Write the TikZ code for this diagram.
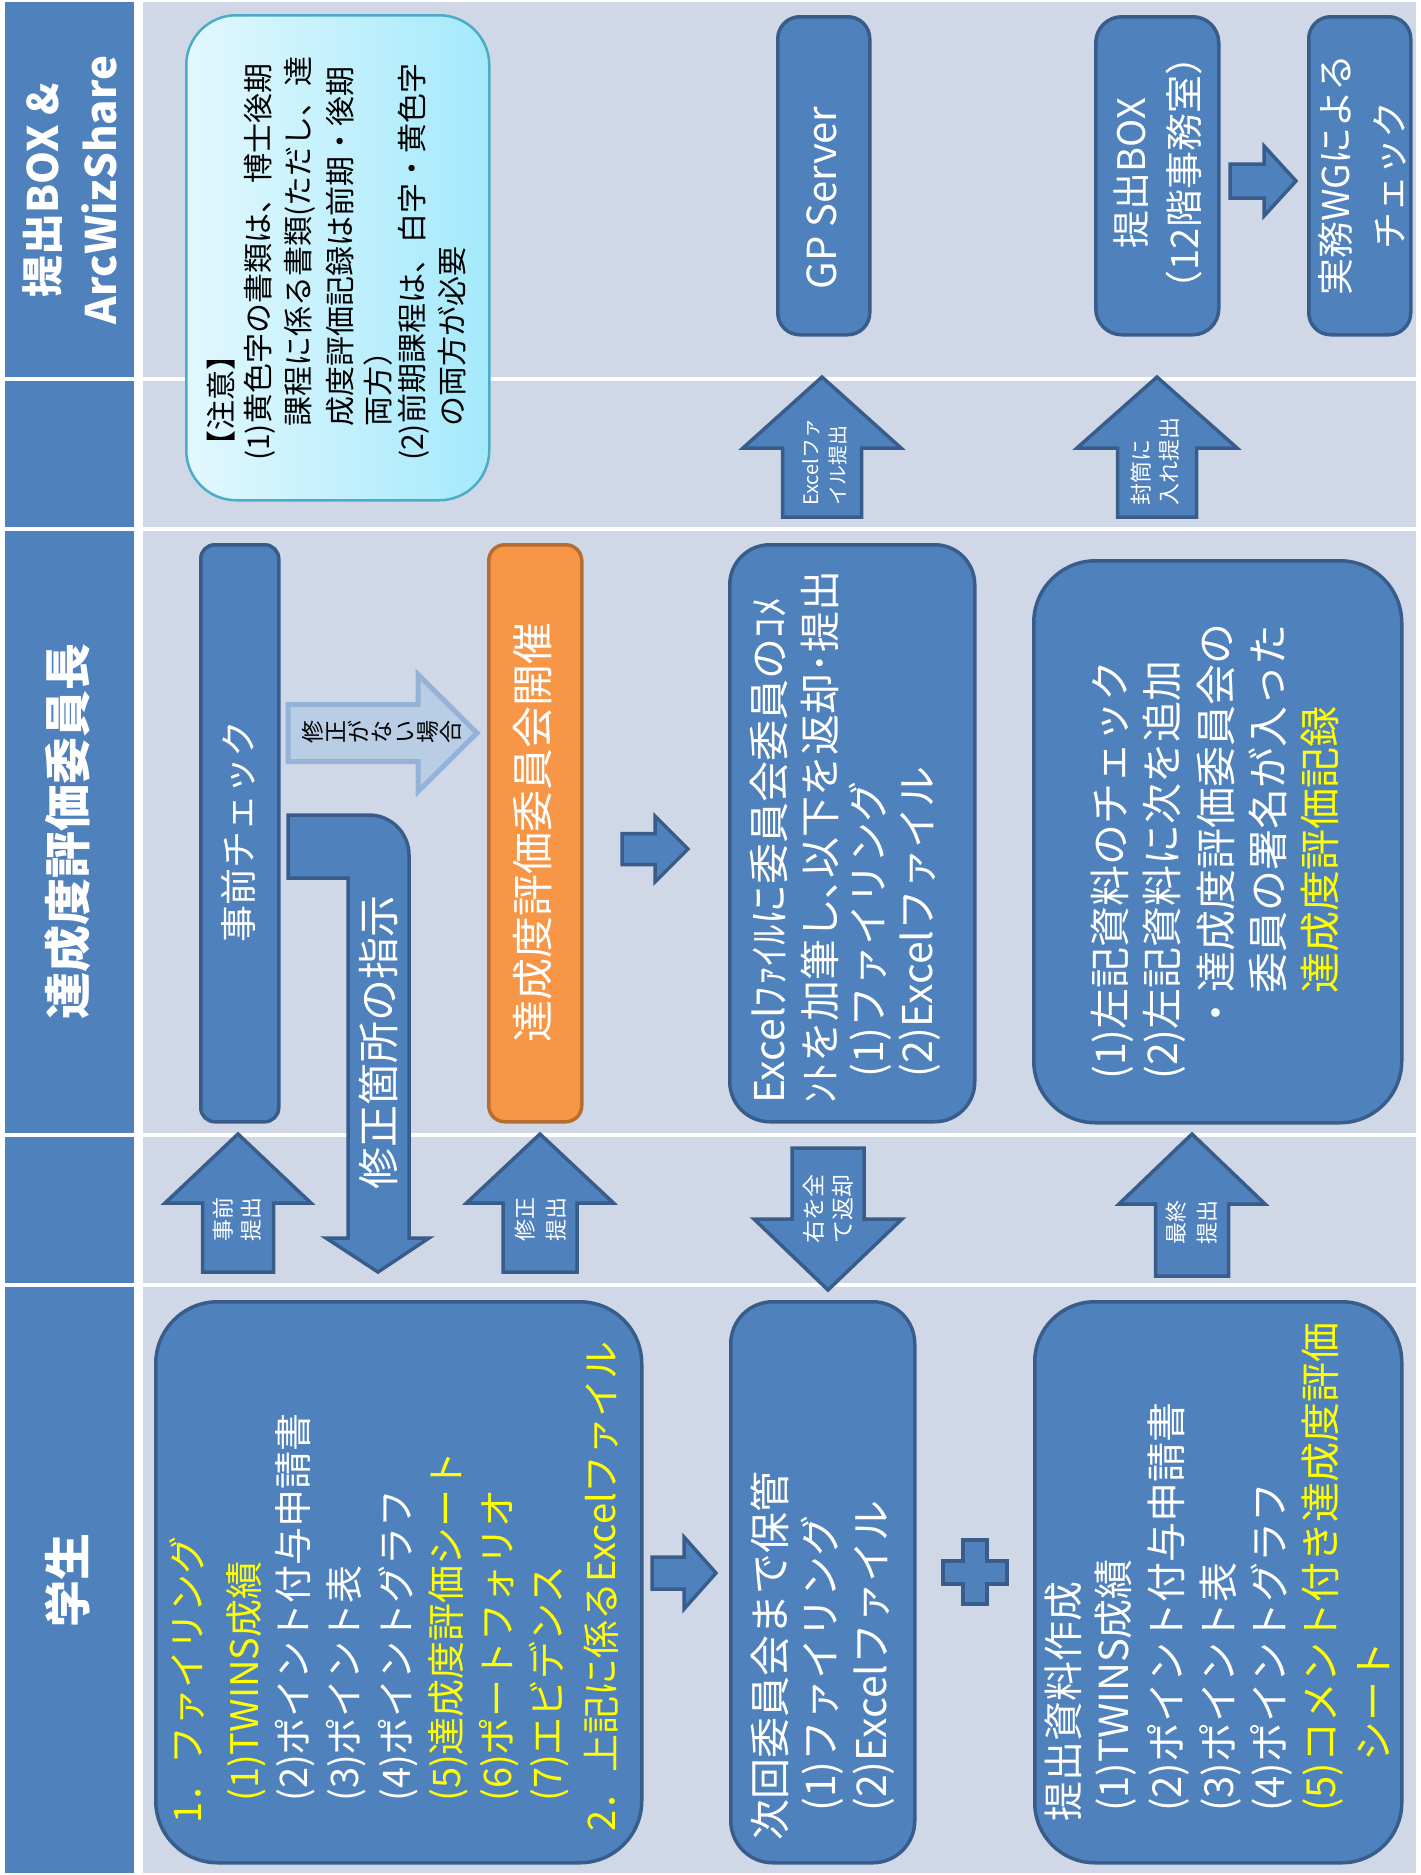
\documentclass[tikz,border=0pt]{standalone}
\usepackage{fontspec}
\setmainfont{Noto Sans CJK JP}
\usetikzlibrary{calc}
\definecolor{hdr}{HTML}{4F81BD}
\definecolor{lane}{HTML}{D0D8E8}
\definecolor{bfill}{HTML}{4F81BD}
\definecolor{bdraw}{HTML}{385D8A}
\definecolor{ofill}{HTML}{F79646}
\definecolor{odraw}{HTML}{B66D31}
\definecolor{lfill}{HTML}{B9CDE5}
\definecolor{ldraw}{HTML}{95B3D7}
\definecolor{nleft}{HTML}{E2F8FE}
\definecolor{nright}{HTML}{A4E9FB}
\definecolor{ndraw}{HTML}{4BACC6}
\definecolor{yel}{HTML}{FFFF00}
% block arrows: style, tip x, tip y, head half width, head length, shaft half width, end
\newcommand{\blkup}[7]{\path[#1] (#2,#3) -- (#2+#4,#3+#5) -- (#2+#6,#3+#5) -- (#2+#6,#7) -- (#2-#6,#7) -- (#2-#6,#3+#5) -- (#2-#4,#3+#5) -- cycle;}
\newcommand{\blkdown}[7]{\path[#1] (#2,#3) -- (#2+#4,#3-#5) -- (#2+#6,#3-#5) -- (#2+#6,#7) -- (#2-#6,#7) -- (#2-#6,#3-#5) -- (#2-#4,#3-#5) -- cycle;}
\newcommand{\blkright}[7]{\path[#1] (#2,#3) -- (#2-#5,#3-#4) -- (#2-#5,#3-#6) -- (#7,#3-#6) -- (#7,#3+#6) -- (#2-#5,#3+#6) -- (#2-#5,#3+#4) -- cycle;}
\begin{document}
\begin{tikzpicture}[x=1pt,y=-1pt,
  bluebox/.style={draw=bdraw, fill=bfill, line width=3.5pt, inner sep=0pt, anchor=north west},
  orangebox/.style={draw=odraw, fill=ofill, line width=3.5pt, inner sep=0pt, anchor=north west},
  bluearr/.style={draw=bdraw, fill=bfill, line width=3.5pt},
  lightarr/.style={draw=ldraw, fill=lfill, line width=5pt},
  vt/.style={rotate=90, anchor=west, inner sep=0pt, text=white},
  vtc/.style={rotate=90, inner sep=0pt, text=white, align=center},
  fsz/.style={font=\fontsize{#1}{#1}\selectfont}]
\useasboundingbox (0,0) rectangle (1421,1875);
\fill[white] (0,0) rectangle (1421,1875);
% header column
\fill[hdr] (5,2) rectangle (134,377);
\fill[hdr] (5,381) rectangle (134,527);
\fill[hdr] (5,531) rectangle (134,1133);
\fill[hdr] (5,1137) rectangle (134,1283);
\fill[hdr] (5,1287) rectangle (134,1873);
% lanes
\fill[lane] (143,2) rectangle (1416,377);
\fill[lane] (143,381) rectangle (1416,527);
\fill[lane] (143,531) rectangle (1416,1133);
\fill[lane] (143,1137) rectangle (1416,1283);
\fill[lane] (143,1287) rectangle (1416,1873);
% header labels
\node[vtc, font=\bfseries\fontsize{42}{58}\selectfont] (h1) at (70,190) {提出BOX \&\\ArcWizShare};
\node[vtc, font=\bfseries\fontsize{47}{47}\selectfont] (h2) at (68,831) {達成度評価委員長};
\node[vtc, font=\bfseries\fontsize{47}{47}\selectfont] (h3) at (68,1580) {学生};

% ---------- row 1 ----------
\node[draw=ndraw, line width=2.5pt, rounded corners=50pt, left color=nleft, right color=nright,
      minimum width=303pt, minimum height=485pt, inner sep=0pt, anchor=north west] (note) at (185,14) {};
\begin{scope}[every node/.style={vt, text=black, fsz=30}]
\node (n1) at (221,461) {【注意】};
\node (n2) at (260,461) {(1)黄色字の書類は、博士後期};
\node (n3) at (300,427) {課程に係る書類(ただし、達};
\node (n4) at (340,427) {成度評価記録は前期・後期};
\node (n5) at (378,427) {両方）};
\node (n6) at (414,461) {(2)前期課程は、白字・黄色字};
\node (n7) at (452,427) {の両方が必要};
\end{scope}

\node[bluebox, rounded corners=22pt, minimum width=92pt, minimum height=318pt] (gp) at (776,15) {};
\node[vtc, fsz=40] (gpt) at (822,198) {GP Server};
\node[bluebox, rounded corners=26pt, minimum width=123pt, minimum height=318pt] (box) at (1094,15) {};
\node[vtc, font=\fontsize{38}{53}\selectfont] (boxt) at (1158,173) {提出BOX\\（12階事務室）};
\node[bluebox, rounded corners=22pt, minimum width=102pt, minimum height=318pt] (wg) at (1307,15) {};
\node[vtc, font=\fontsize{37}{54}\selectfont] (wgt) at (1362,175) {実務WGによる\\チェック};
\blkright{bluearr}{1296}{181}{35}{32}{17}{1230}

% ---------- row 2 ----------
\blkup{bluearr}{822}{377}{79}{71}{39.5}{517}
\node[vt, fsz=20] (a1a) at (811,506) {Excelファ};
\node[vt, fsz=20] (a1b) at (838,506) {イル提出};
\blkup{bluearr}{1157}{377}{80}{71}{39.5}{517}
\node[vt, fsz=22] (a2a) at (1141,506) {封筒に};
\node[vt, fsz=22] (a2b) at (1169,506) {入れ提出};

% ---------- row 3 ----------
\node[bluebox, rounded corners=14pt, minimum width=78pt, minimum height=577pt] (pre) at (199,543) {};
\node[vtc, fsz=37] (pret) at (238,831) {事前チェック};
\blkright{lightarr}{477}{733}{58.5}{59}{28.5}{288}
\node[rotate=90, inner sep=0pt, align=center, text=black, font=\fontsize{23}{23}\selectfont] (nofix) at (382,732) {修\\正\\が\\な\\い\\場\\合};
\path[bluearr] (288,815) -- (369,815) .. controls (391,815) and (409,833) .. (409,855) -- (409,1238) -- (429,1238) -- (378,1272) -- (326,1238) -- (348,1238) -- (348,878) -- (288,878) -- cycle;
\node[vtc, fsz=42] (fixt) at (378,1042) {修正箇所の指示};
\node[orangebox, rounded corners=16pt, minimum width=93pt, minimum height=577pt] (meet) at (487,543) {};
\node[vtc, fsz=42] (meett) at (533,832) {達成度評価委員会開催};
\blkright{bluearr}{688}{849}{33}{33}{15.5}{622}
\node[bluebox, rounded corners=40pt, minimum width=245pt, minimum height=577pt] (xl) at (728,543) {};
\begin{scope}[every node/.style={vt, fsz=41}]
\node (x1) at (769,1104) {Excelﾌｧｲﾙに委員会委員のｺﾒ};
\node (x2) at (820,1104) {ﾝﾄを加筆し､以下を返却･提出};
\node (x3) at (870,1078) {(1)ファイリング};
\node (x4) at (920,1078) {(2)Excelファイル};
\end{scope}
\node[bluebox, rounded corners=62pt, minimum width=368pt, minimum height=562pt] (chk) at (1032,559) {};
\begin{scope}[every node/.style={vt, fsz=41}]
\node (c1) at (1112,1080) {(1)左記資料のチェック};
\node (c2) at (1164,1080) {(2)左記資料に次を追加};
\node (c3) at (1216,1034) {・達成度評価委員会の};
\node (c4) at (1268,994) {委員の署名が入った};
\node[text=yel] (c5) at (1320,994) {達成度評価記録};
\end{scope}

% ---------- row 4 ----------
\blkup{bluearr}{238}{1134}{73}{69}{35.5}{1272}
\node[vt, fsz=22] (a3a) at (223,1242) {事前};
\node[vt, fsz=22] (a3b) at (251,1242) {提出};
\blkup{bluearr}{540}{1134}{73.5}{69}{37}{1272}
\node[vt, fsz=22] (a4a) at (525,1242) {修正};
\node[vt, fsz=22] (a4b) at (556,1242) {提出};
\blkdown{bluearr}{828}{1290}{74}{71}{36}{1148}
\node[vt, fsz=23] (a5a) at (814,1244) {右を全};
\node[vt, fsz=23] (a5b) at (843,1244) {て返却};
\blkup{bluearr}{1192}{1134}{73}{70}{36.5}{1276}
\node[vt, fsz=22] (a6a) at (1176,1245) {最終};
\node[vt, fsz=22] (a6b) at (1207,1245) {提出};

% ---------- row 5 ----------
\node[bluebox, rounded corners=62pt, minimum width=486pt, minimum height=561pt] (s1) at (154,1300) {};
\begin{scope}[every node/.style={vt, fsz=38}]
\node[text=yel] (s1a) at (187,1824) {1．ファイリング};
\node[text=yel] (s1b) at (246,1802) {(1)TWINS成績};
\node (s1c) at (295,1802) {(2)ポイント付与申請書};
\node (s1d) at (346,1802) {(3)ポイント表};
\node (s1e) at (398,1802) {(4)ポイントグラフ};
\node[text=yel] (s1f) at (448,1802) {(5)達成度評価シート};
\node[text=yel] (s1g) at (499,1802) {(6)ポートフォリオ};
\node[text=yel] (s1h) at (549,1802) {(7)エビデンス};
\node[text=yel] (s1i) at (601,1832) {2．上記に係るExcelファイル};
\end{scope}
\blkright{bluearr}{716}{1573}{36}{32}{16}{652}
\node[bluebox, rounded corners=42pt, minimum width=184pt, minimum height=561pt] (s2) at (729,1300) {};
\begin{scope}[every node/.style={vt, fsz=41}]
\node (s2a) at (770,1841) {次回委員会まで保管};
\node (s2b) at (822,1812) {(1)ファイリング};
\node (s2c) at (874,1812) {(2)Excelファイル};
\end{scope}
\path[bluearr] (963,1540) -- (987,1540) -- (987,1561) -- (1007,1561) -- (1007,1584) -- (987,1584) -- (987,1604) -- (963,1604) -- (963,1584) -- (943,1584) -- (943,1561) -- (963,1561) -- cycle;
\node[bluebox, rounded corners=60pt, minimum width=367pt, minimum height=561pt] (s3) at (1033,1300) {};
\begin{scope}[every node/.style={vt, fsz=40}]
\node (s3a) at (1063,1822) {提出資料作成};
\node (s3b) at (1116,1812) {(1)TWINS成績};
\node (s3c) at (1168,1812) {(2)ポイント付与申請書};
\node (s3d) at (1220,1812) {(3)ポイント表};
\node (s3e) at (1271,1812) {(4)ポイントグラフ};
\node[text=yel] (s3f) at (1323,1812) {(5)コメント付き達成度評価};
\node[text=yel] (s3g) at (1374,1762) {シート};
\end{scope}
\end{tikzpicture}
\end{document}
